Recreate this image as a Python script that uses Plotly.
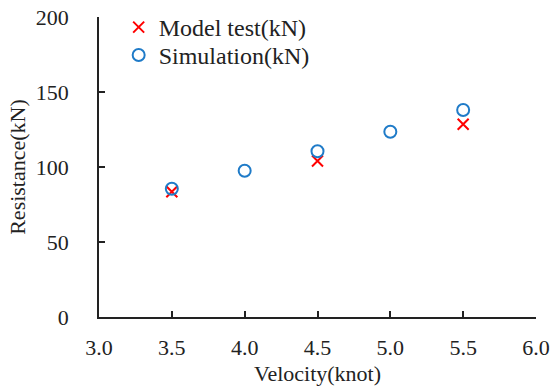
import plotly.graph_objects as go

# Resistance vs. velocity: model test compared with simulation
velocity_model = [3.5, 4.5, 5.5]
resistance_model = [83.5, 104, 128.5]

velocity_sim = [3.5, 4.0, 4.5, 5.0, 5.5]
resistance_sim = [85.5, 97.5, 110.5, 123.5, 138]

x_ticks = [3.0, 3.5, 4.0, 4.5, 5.0, 5.5, 6.0]
y_ticks = [0, 50, 100, 150, 200]

FONT = "'Times New Roman', 'Liberation Serif', serif"
INK = "#222222"

fig = go.Figure()
fig.add_trace(go.Scatter(
    x=velocity_model, y=resistance_model, mode="markers",
    name="Model test(kN)", legend="legend",
    marker=dict(symbol="x-thin", size=11, color="#FF0000",
                line=dict(color="#FF0000", width=2)),
))
fig.add_trace(go.Scatter(
    x=velocity_sim, y=resistance_sim, mode="markers",
    name="Simulation(kN)", legend="legend2",
    marker=dict(symbol="circle-open", size=12, color="#1F7BC8",
                line=dict(color="#1F7BC8", width=2)),
))

axis_common = dict(
    showgrid=False, zeroline=False, showline=True, automargin=False,
    linecolor=INK, linewidth=1.5,
    ticks="inside", ticklen=6, tickwidth=1.5, tickcolor=INK,
    tickfont=dict(family=FONT, size=22, color=INK),
    mirror=False,
)

fig.update_xaxes(
    range=[3.0, 6.0], tickvals=x_ticks,
    ticktext=[f"{v:.1f}" for v in x_ticks],
    ticklabelstandoff=10,
    title=dict(text="Velocity(knot)", standoff=6,
               font=dict(family=FONT, size=22, color=INK)),
    **axis_common,
)
fig.update_yaxes(
    range=[0, 200], tickvals=y_ticks,
    ticktext=[str(v) for v in y_ticks],
    ticklabelstandoff=24,
    title=dict(text="Resistance(kN)", standoff=4,
               font=dict(family=FONT, size=22, color=INK)),
    **axis_common,
)

legend_style = dict(
    xanchor="left", yanchor="top",
    bgcolor="rgba(0,0,0,0)", itemwidth=30,
    font=dict(family=FONT, size=24, color=INK),
)

fig.update_layout(
    width=550, height=390,
    margin=dict(l=99, r=14, t=17, b=73, autoexpand=False),
    paper_bgcolor="white", plot_bgcolor="white",
    font=dict(family=FONT, color=INK),
    legend=dict(x=0.045, y=1.04, **legend_style),
    legend2=dict(x=0.045, y=0.947, **legend_style),
    showlegend=True,
)

fig.write_html("out.html")
